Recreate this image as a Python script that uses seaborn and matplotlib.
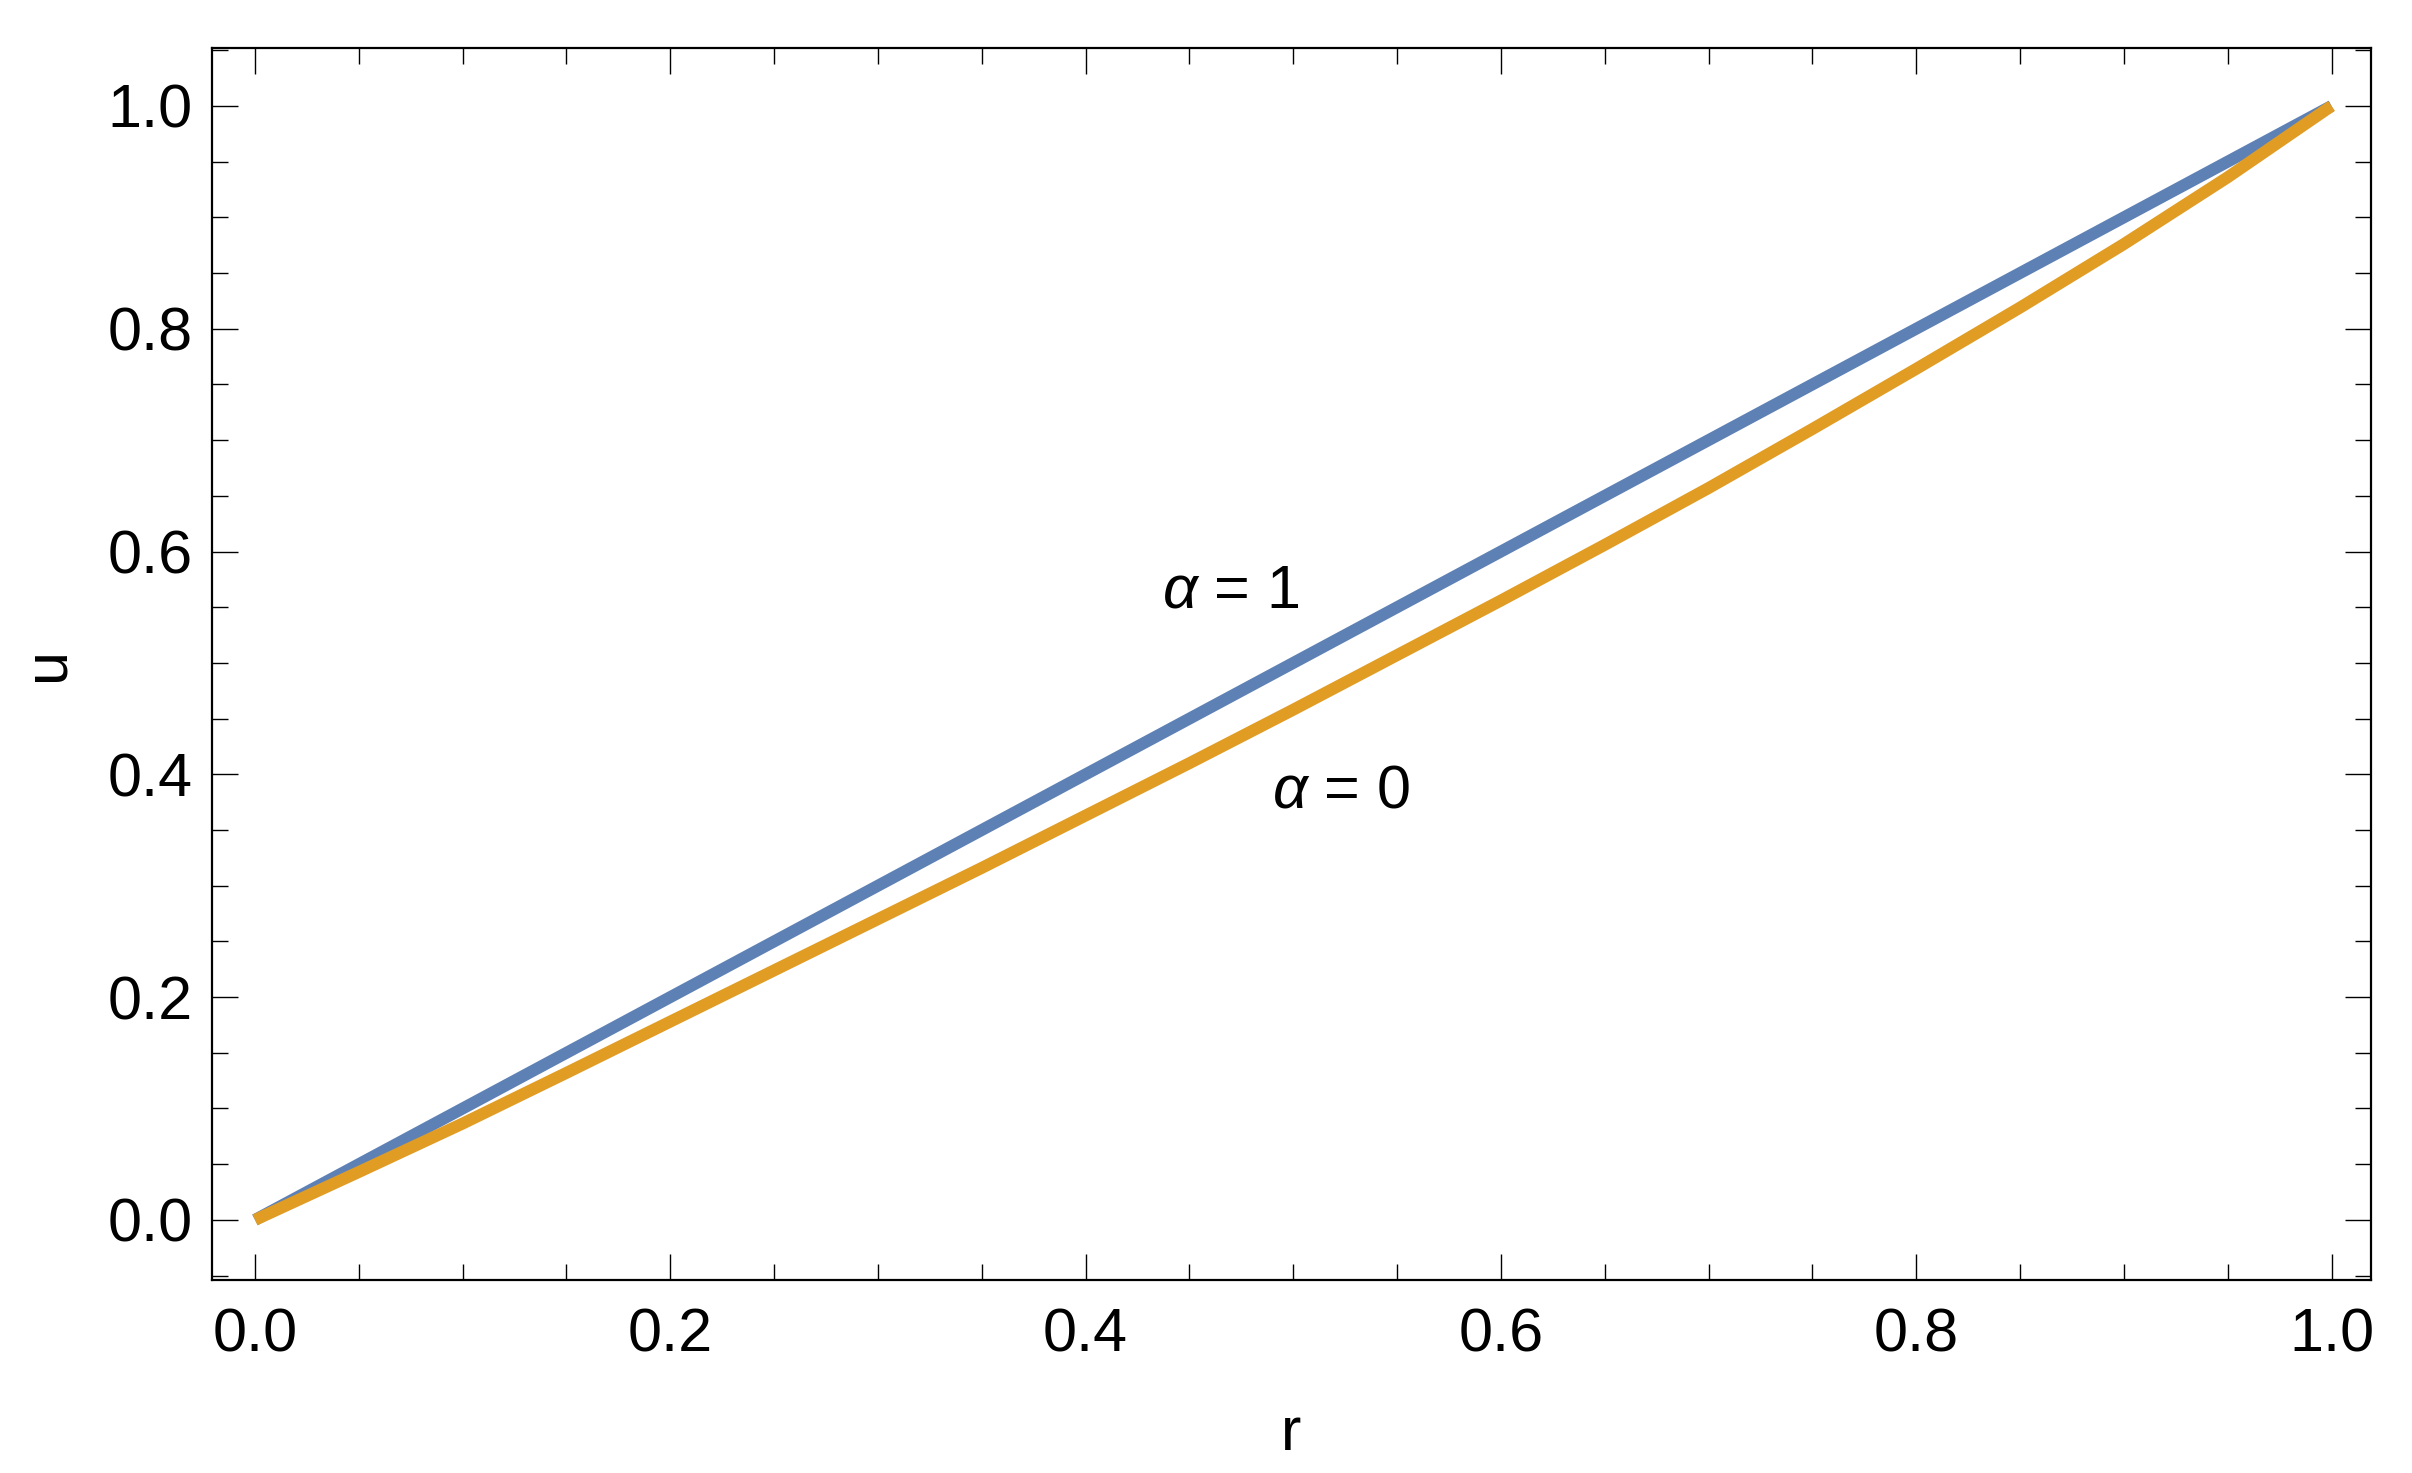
import numpy as np
import pandas as pd
import matplotlib
matplotlib.use("Agg")
import matplotlib.pyplot as plt
import seaborn as sns
from matplotlib.ticker import MultipleLocator

# values
r = [0.0, 0.05, 0.1, 0.15, 0.2, 0.25, 0.3, 0.35, 0.4, 0.45, 0.5,
     0.55, 0.6, 0.65, 0.7, 0.75, 0.8, 0.85, 0.9, 0.95, 1.0]
u_alpha1 = [0.0, 0.05, 0.1, 0.15, 0.2, 0.25, 0.3, 0.35, 0.4, 0.45, 0.5,
            0.55, 0.6, 0.65, 0.7, 0.75, 0.8, 0.85, 0.9, 0.95, 1.0]
u_alpha0 = [0.0, 0.043, 0.0865, 0.132, 0.178, 0.224, 0.270, 0.316, 0.363, 0.410, 0.458,
            0.507, 0.556, 0.606, 0.657, 0.710, 0.764, 0.819, 0.876, 0.936, 1.0]
series_names = ["α = 1", "α = 0"]
colors = ["#5E81B5", "#E19C24"]

df = pd.concat([
    pd.DataFrame({"r": r, "u": u_alpha1, "curve": series_names[0]}),
    pd.DataFrame({"r": r, "u": u_alpha0, "curve": series_names[1]}),
])

sns.set_style("ticks")
plt.rcParams["font.family"] = ["Liberation Sans", "DejaVu Sans"]
plt.rcParams["mathtext.fontset"] = "custom"
plt.rcParams["mathtext.rm"] = "Liberation Sans"
plt.rcParams["mathtext.it"] = "Liberation Sans:italic"
plt.rcParams["text.color"] = "black"
plt.rcParams["axes.labelcolor"] = "black"
plt.rcParams["xtick.color"] = "black"
plt.rcParams["ytick.color"] = "black"

fig = plt.figure(figsize=(12.06, 7.365), dpi=200)
ax = fig.add_axes([0.0879, 0.131, 0.983 - 0.0879, 0.9674 - 0.131])

sns.lineplot(data=df, x="r", y="u", hue="curve", palette=colors,
             linewidth=4.3, legend=False, ax=ax, sort=False)
for ln in ax.get_lines():
    ln.set_solid_capstyle("butt")

ax.set_xlim(-0.0207, 1.019)
ax.set_ylim(-0.054, 1.052)

ax.xaxis.set_major_locator(MultipleLocator(0.2))
ax.xaxis.set_minor_locator(MultipleLocator(0.05))
ax.yaxis.set_major_locator(MultipleLocator(0.2))
ax.yaxis.set_minor_locator(MultipleLocator(0.05))
ax.xaxis.set_major_formatter(lambda v, p: f"{v:.1f}")
ax.yaxis.set_major_formatter(lambda v, p: f"{v:.1f}")

ax.tick_params(which="both", direction="in", top=True, right=True,
               width=0.5, color="black", labelcolor="black")
ax.tick_params(which="major", length=9.4, labelsize=22)
ax.tick_params(which="minor", length=5.8)
ax.tick_params(axis="x", which="major", pad=10)
ax.tick_params(axis="y", which="major", pad=7)

for s in ax.spines.values():
    s.set_linewidth(0.8)
    s.set_color("black")

ax.set_xlabel("r", fontsize=22, labelpad=15, color="black")
ax.set_ylabel("u", fontsize=22, labelpad=11, color="black")

ax.text(0.47, 0.564, r"$\alpha$ = 1", fontsize=22, ha="center", va="center", color="black")
ax.text(0.523, 0.384, r"$\alpha$ = 0", fontsize=22, ha="center", va="center", color="black")

fig.savefig("out.png", dpi=200, facecolor="white")
